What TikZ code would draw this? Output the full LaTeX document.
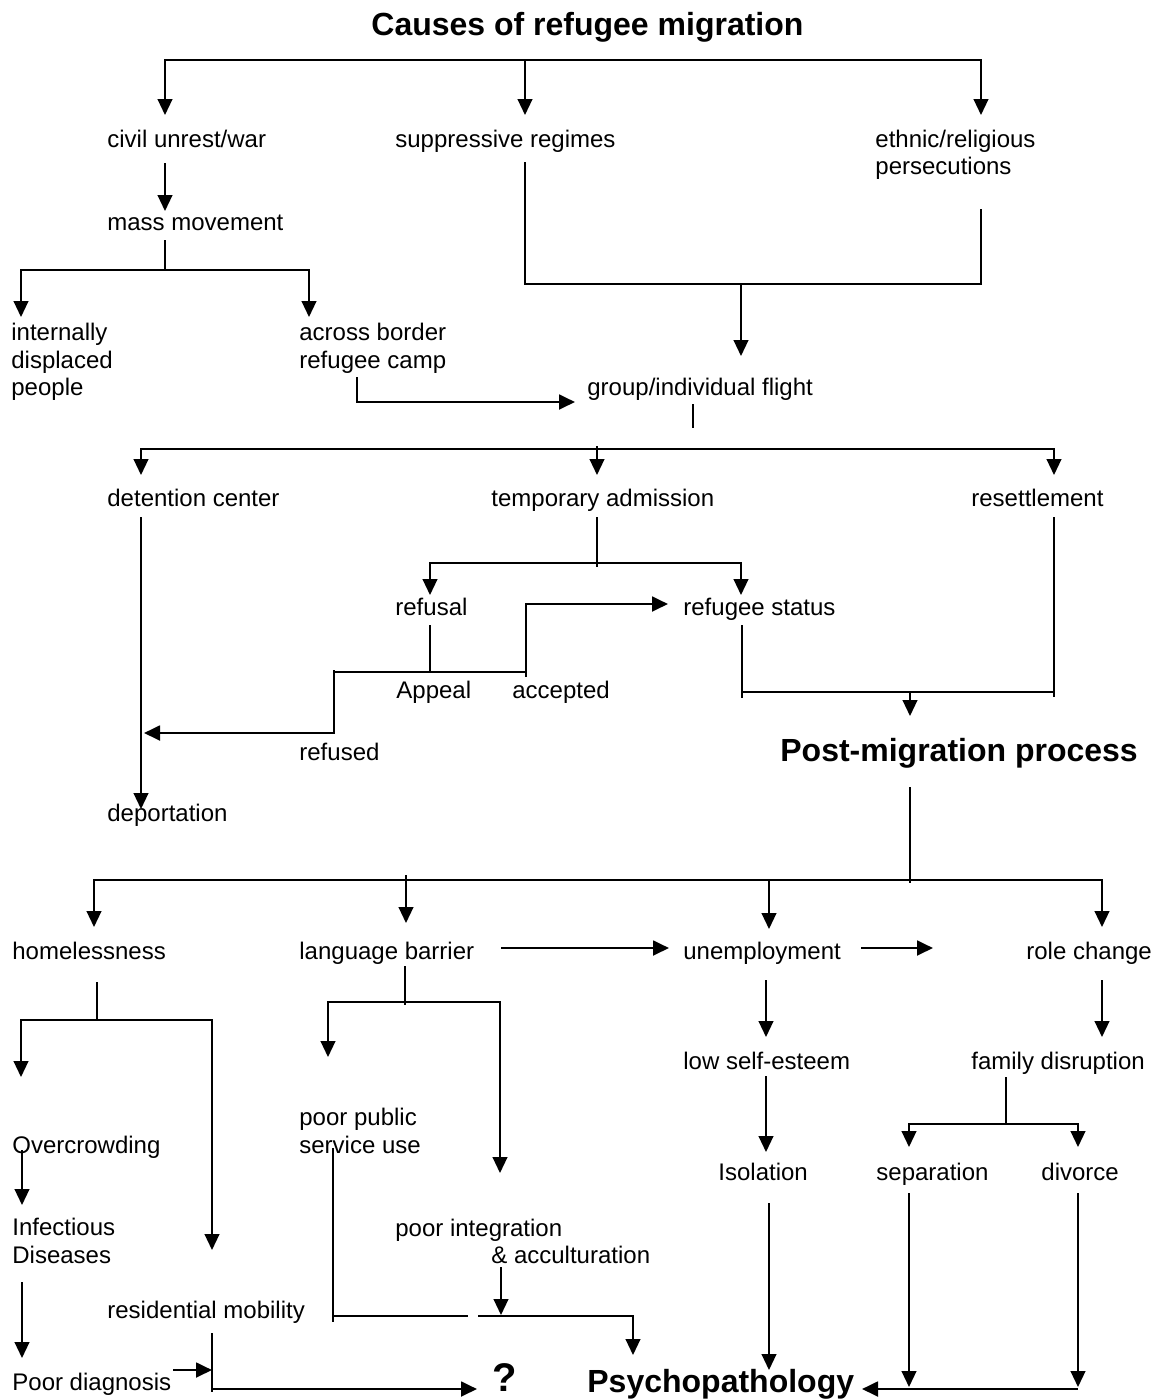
\documentclass[tikz,border=0pt]{standalone}
\usepackage{fontspec}
\setmainfont{Liberation Sans}
\usetikzlibrary{arrows.meta}
\tikzset{
  Tr/.tip={Triangle[length=8pt,width=7.4pt]},
  lbl/.style={anchor=base west, inner sep=0pt, font=\fontsize{12}{14}\selectfont},
  hd/.style={anchor=base west, inner sep=0pt, font=\fontsize{16}{19}\selectfont\bfseries},
  ln/.style={line width=0.75pt},
  arr/.style={line width=0.9pt, -Tr},
  arrtwo/.style={line width=0.9pt, Tr-Tr},
  tarr/.style={line width=1.25pt, -Tr},
}
\begin{document}
\begin{tikzpicture}[x=0.5pt,y=-0.5pt]
\useasboundingbox (0,0) rectangle (1156,1399);
\fill[white] (0,0) rectangle (1156,1399);

% ---------- texts ----------
\node[hd]  (title) at (371,35) {Causes of refugee migration};
\node[lbl] (cu)   at (107,147) {civil unrest/war};
\node[lbl] (sr)   at (395,147) {suppressive regimes};
\node[lbl] (er1)  at (875,147) {ethnic/religious};
\node[lbl] (er2)  at (875,174) {persecutions};
\node[lbl] (mm)   at (107,230) {mass movement};
\node[lbl] (idp1) at (11,340) {internally};
\node[lbl] (idp2) at (11,368) {displaced};
\node[lbl] (idp3) at (11,395) {people};
\node[lbl] (abc1) at (299,340) {across border};
\node[lbl] (abc2) at (299,368) {refugee camp};
\node[lbl] (gif)  at (587,395) {group/individual flight};
\node[lbl] (dc)   at (107,506) {detention center};
\node[lbl] (ta)   at (491,506) {temporary admission};
\node[lbl] (rs)   at (971,506) {resettlement};
\node[lbl] (rfl)  at (395,615) {refusal};
\node[lbl] (rst)  at (683,615) {refugee status};
\node[lbl] (ap)   at (396,698) {Appeal};
\node[lbl] (acc)  at (512,698) {accepted};
\node[lbl] (rfd)  at (299,760) {refused};
\node[hd]  (pmp)  at (780,761) {Post-migration process};
\node[lbl] (dep)  at (107,821) {deportation};
\node[lbl] (home) at (12,959) {homelessness};
\node[lbl] (lb)   at (299,959) {language barrier};
\node[lbl] (un)   at (683,959) {unemployment};
\node[lbl] (rc)   at (1026,959) {role change};
\node[lbl] (lse)  at (683,1069) {low self-esteem};
\node[lbl] (fd)   at (971,1069) {family disruption};
\node[lbl] (pp1)  at (299,1125) {poor public};
\node[lbl] (pp2)  at (299,1153) {service use};
\node[lbl] (oc)   at (12,1153) {Overcrowding};
\node[lbl] (iso)  at (718,1180) {Isolation};
\node[lbl] (sep)  at (876,1180) {separation};
\node[lbl] (div)  at (1041,1180) {divorce};
\node[lbl] (pi1)  at (395,1236) {poor integration};
\node[lbl] (pi2)  at (491,1263) {\& acculturation};
\node[lbl] (inf1) at (12,1235) {Infectious};
\node[lbl] (inf2) at (12,1263) {Diseases};
\node[lbl] (rm)   at (107,1318) {residential mobility};
\node[lbl] (pd)   at (12,1390) {Poor diagnosis};
\node[hd, font=\fontsize{20}{24}\selectfont\bfseries] (q) at (492,1391) {?};
\node[hd]  (psy)  at (587,1392) {Psychopathology};

% ---------- coordinates ----------
\coordinate (t1) at (525,60);   \coordinate (t2) at (981,60);
\coordinate (cuA) at (165,115); \coordinate (srA) at (525,115); \coordinate (erA) at (981,115);
\coordinate (cuB) at (165,163); \coordinate (mmA) at (165,211);
\coordinate (mmB) at (165,240); \coordinate (mmC) at (165,270);
\coordinate (idpA) at (21,317); \coordinate (abcA) at (309,317); \coordinate (mmR) at (309,270);
\coordinate (srB) at (525,162); \coordinate (erB) at (981,209);
\coordinate (mgL) at (525,284); \coordinate (mgR) at (981,284);
\coordinate (mgA) at (741,284); \coordinate (gifA) at (741,356);
\coordinate (abcB) at (357,377); \coordinate (gifB) at (575,402);
\coordinate (gifC) at (693,404); \coordinate (gifD) at (693,428);
\coordinate (dcA) at (141,475); \coordinate (rsA) at (1054,475); \coordinate (fbR) at (1054,449);
\coordinate (fbM) at (597,446); \coordinate (taA) at (597,475);
\coordinate (dcB) at (141,517); \coordinate (depA) at (141,809);
\coordinate (taB) at (597,517); \coordinate (taC) at (597,567);
\coordinate (rflA) at (430,595); \coordinate (rstA) at (741,595); \coordinate (tsR) at (741,563);
\coordinate (rflB) at (430,625); \coordinate (apM) at (430,672);
\coordinate (apL) at (334,672); \coordinate (apR) at (526,672);
\coordinate (accB) at (526,677); \coordinate (rstB) at (668,604);
\coordinate (apL2) at (334,670); \coordinate (dcC) at (144,733);
\coordinate (rstC) at (742,625); \coordinate (rstD) at (742,698);
\coordinate (pmL) at (742,692); \coordinate (pmR) at (1054,692);
\coordinate (rsB) at (1054,517); \coordinate (rsC) at (1054,697);
\coordinate (pmM) at (910,692); \coordinate (pmA) at (910,716);
\coordinate (pmB) at (910,787); \coordinate (pmC) at (910,883);
\coordinate (homeA) at (94,927); \coordinate (rcA) at (1102,927); \coordinate (psR) at (1102,880);
\coordinate (lbT) at (406,875); \coordinate (lbA) at (406,923);
\coordinate (unT) at (769,880); \coordinate (unA) at (769,929);
\coordinate (lbR) at (501,948); \coordinate (unL) at (669,948);
\coordinate (unR) at (861,948); \coordinate (rcL) at (933,948);
\coordinate (hmB) at (97,982); \coordinate (hmC) at (97,1020);
\coordinate (ocA) at (21,1077); \coordinate (rmA) at (212,1250); \coordinate (hmR) at (212,1020);
\coordinate (ocB) at (22,1150); \coordinate (infA) at (22,1205);
\coordinate (infB) at (22,1282); \coordinate (pdA) at (22,1358);
\coordinate (rmB) at (212,1333); \coordinate (rmD) at (212,1392);
\coordinate (rmC) at (212,1389); \coordinate (qA) at (477,1389);
\coordinate (pdB) at (173,1370); \coordinate (rmE) at (212,1370);
\coordinate (lbB) at (405,966); \coordinate (lbC) at (405,1005);
\coordinate (ppA) at (328,1057); \coordinate (piA) at (500,1173); \coordinate (lsR) at (500,1002);
\coordinate (ppB) at (333,1148); \coordinate (ppC) at (333,1322);
\coordinate (ppD) at (333,1316); \coordinate (gapL) at (468,1316);
\coordinate (gapR) at (478,1316); \coordinate (psyT) at (633,1316); \coordinate (psyA) at (633,1355);
\coordinate (piB) at (501,1267); \coordinate (piC) at (501,1315);
\coordinate (unB) at (766,980); \coordinate (lseA) at (766,1037);
\coordinate (lseB) at (766,1076); \coordinate (isoA) at (766,1152);
\coordinate (isoB) at (769,1203); \coordinate (psyB) at (769,1370);
\coordinate (rcB) at (1102,980); \coordinate (fdA) at (1102,1037);
\coordinate (fdB) at (1006,1077); \coordinate (fdC) at (1006,1124);
\coordinate (sepA) at (909,1147); \coordinate (divA) at (1078,1147); \coordinate (fsR) at (1078,1124);
\coordinate (sepB) at (909,1193); \coordinate (sepC) at (909,1387);
\coordinate (divB) at (1078,1193); \coordinate (divC) at (1078,1387);
\coordinate (bbR) at (1078,1389); \coordinate (psyC) at (862,1389);

% ---------- connectors ----------
\draw[arrtwo] (cuA) |- (t2) -- (erA);
\draw[arr] (t1) -- (srA);
\draw[arr] (cuB) -- (mmA);
\draw[ln] (mmB) -- (mmC);
\draw[arrtwo] (idpA) |- (mmR) -- (abcA);
\draw[ln] (srB) -- (mgL) -- (mgR) -- (erB);
\draw[arr] (mgA) -- (gifA);
\draw[tarr] (abcB) |- (gifB);
\draw[ln] (gifC) -- (gifD);
\draw[arrtwo] (dcA) |- (fbR) -- (rsA);
\draw[arr] (fbM) -- (taA);
\draw[arr] (dcB) -- (depA);
\draw[ln] (taB) -- (taC);
\draw[arrtwo] (rflA) |- (tsR) -- (rstA);
\draw[ln] (rflB) -- (apM);
\draw[ln] (apL) -- (apR);
\draw[tarr] (accB) |- (rstB);
\draw[tarr] (apL2) |- (dcC);
\draw[ln] (rstC) -- (rstD);
\draw[ln] (pmL) -- (pmR);
\draw[ln] (rsB) -- (rsC);
\draw[arr] (pmM) -- (pmA);
\draw[ln] (pmB) -- (pmC);
\draw[arrtwo] (homeA) |- (psR) -- (rcA);
\draw[arr] (lbT) -- (lbA);
\draw[arr] (unT) -- (unA);
\draw[tarr] (lbR) -- (unL);
\draw[tarr] (unR) -- (rcL);
\draw[ln] (hmB) -- (hmC);
\draw[arrtwo] (ocA) |- (hmR) -- (rmA);
\draw[arr] (ocB) -- (infA);
\draw[arr] (infB) -- (pdA);
\draw[ln] (rmB) -- (rmD);
\draw[tarr] (rmC) -- (qA);
\draw[tarr] (pdB) -- (rmE);
\draw[ln] (lbB) -- (lbC);
\draw[arrtwo] (ppA) |- (lsR) -- (piA);
\draw[ln] (ppB) -- (ppC);
\draw[ln] (ppD) -- (gapL);
\draw[arr] (gapR) -- (psyT) -- (psyA);
\draw[arr] (piB) -- (piC);
\draw[arr] (unB) -- (lseA);
\draw[arr] (lseB) -- (isoA);
\draw[arr] (isoB) -- (psyB);
\draw[arr] (rcB) -- (fdA);
\draw[ln] (fdB) -- (fdC);
\draw[arrtwo] (sepA) |- (fsR) -- (divA);
\draw[arr] (sepB) -- (sepC);
\draw[arr] (divB) -- (divC);
\draw[tarr] (bbR) -- (psyC);
\end{tikzpicture}
\end{document}
